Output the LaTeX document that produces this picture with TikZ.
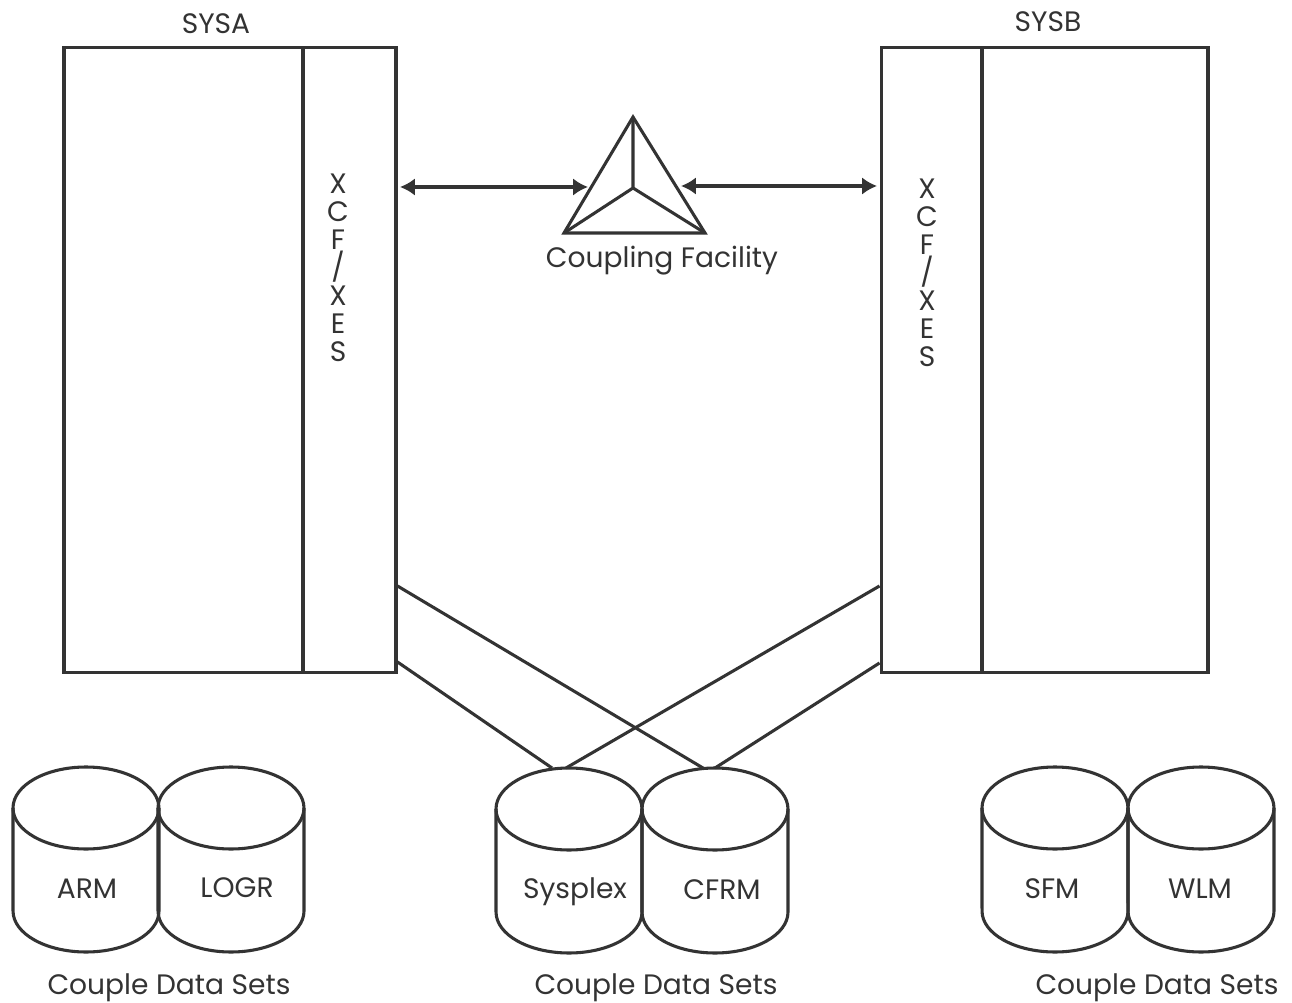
\documentclass[tikz,border=0pt]{standalone}
\usepackage{fontspec}
\setmainfont{Poppins}
\usepackage{xcolor}
\usetikzlibrary{arrows.meta}
\definecolor{inkgray}{HTML}{333333}
\tikzset{
  sysbox/.style={draw=inkgray,line width=1.75pt,minimum width=#1,minimum height=12.5cm,inner sep=0pt},
  txtlabel/.style={text=inkgray,font=\fontsize{16}{16}\selectfont,inner sep=0pt},
  stack/.style={text=inkgray,font=\fontsize{16}{15.9}\selectfont,align=center,inner sep=0pt},
  link/.style={draw=inkgray,line width=1.75pt},
  dbl/.style={draw=inkgray,line width=1.75pt,{Latex[length=8.5pt,width=10pt]}-{Latex[length=8.5pt,width=10pt]}}
}
\begin{document}
\begin{tikzpicture}[x=0.02cm,y=-0.02cm]
	\useasboundingbox (0,0) rectangle (1292,1003);
	\node[sysbox=6.64cm](sysa) at (230,360){};
	\node[sysbox=6.54cm](sysb) at (1044.5,360){};
	\draw[link](303,47)--(303,673);
	\draw[link](982,47)--(982,673);
	\node[txtlabel](sysalabel) at (216,24){SYSA};
	\node[txtlabel](sysblabel) at (1048,22){SYSB};
	\node[stack](xcfa) at (338,268){X\\C\\F\\/\\X\\E\\S};
	\node[stack](xcfb) at (927,273){X\\C\\F\\/\\X\\E\\S};
	% coupling facility
	\coordinate (apex) at (633,117);
	\coordinate (cfl) at (564,233);
	\coordinate (cfr) at (705,233);
	\coordinate (cfm) at (633,188);
	\draw[link,line join=miter](apex)--(cfl)--(cfr)--cycle;
	\draw[link](apex)--(cfm)--(cfl);
	\draw[link](cfm)--(cfr);
	\node[txtlabel](cflabel) at (662,261){Coupling Facility};
	\coordinate (a1) at (400,187);
	\coordinate (a2) at (588,187);
	\coordinate (b1) at (681,186);
	\coordinate (b2) at (877,186);
	\draw[dbl](a1)--(a2);
	\draw[dbl](b1)--(b2);
	% drums
	\foreach \cx/\cy/\tx/\ty/\name/\txt in {86/808/87/889/arm/ARM,231/808/237/888/logr/LOGR,569/809/575/892/sysplex/Sysplex,715/809/722/890/cfrm/CFRM,1055/808/1052/889/sfm/SFM,1201/808/1200/889/wlm/WLM}{
		\draw[link](\cx-73,\cy) arc[start angle=180,end angle=0,x radius=1.46cm,y radius=0.82cm]
			--(\cx+73,\cy+103) arc[start angle=360,end angle=180,x radius=1.46cm,y radius=0.82cm]--cycle;
		\draw[link](\cx-73,\cy) arc[start angle=180,end angle=360,x radius=1.46cm,y radius=0.82cm];
		\node[txtlabel](\name) at (\tx,\ty){\txt};
	}
	\node[txtlabel](cdsa) at (169,988){Couple Data Sets};
	\node[txtlabel](cdsb) at (656,988){Couple Data Sets};
	\node[txtlabel](cdsc) at (1157,988){Couple Data Sets};
	% links to drums
	\coordinate (e1) at (703,768);
	\coordinate (e2) at (552,768);
	\coordinate (e3) at (566,768);
	\coordinate (e4) at (715,768);
	\draw[link](sysa.east|-0,586)--(e1);
	\draw[link](sysa.east|-0,662)--(e2);
	\draw[link](sysb.west|-0,586)--(e3);
	\draw[link](sysb.west|-0,663)--(e4);
\end{tikzpicture}
\end{document}
